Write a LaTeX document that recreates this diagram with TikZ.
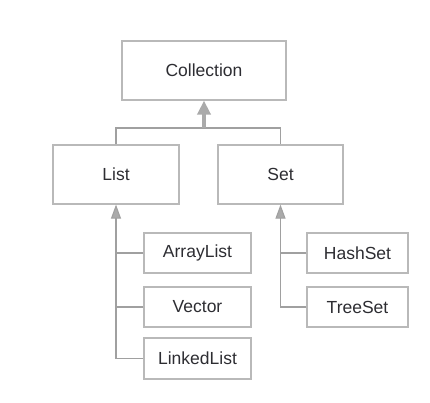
\documentclass[tikz,border=0pt]{standalone}
\usepackage{fontspec}
\setmainfont{Liberation Sans}
\usetikzlibrary{arrows.meta}
\definecolor{boxgray}{RGB}{185,185,185}
\definecolor{linegray}{RGB}{160,160,160}
\definecolor{tipgray}{RGB}{170,170,170}
\definecolor{textgray}{RGB}{45,45,50}
\begin{document}
\begin{tikzpicture}[x=1pt,y=-1pt,
    box/.style={draw=boxgray,line width=1.2pt,text=textgray,
        font=\fontsize{17.5}{19}\selectfont,inner sep=0pt},
    wire/.style={draw=linegray,line width=1.1pt},
    upto/.style={wire,-{Triangle[width=10pt,length=14pt,fill=tipgray]}},
    bigup/.style={draw=tipgray,line width=3.5pt,-{Triangle[width=13pt,length=14pt,fill=tipgray]}}]
        \useasboundingbox (0,0) rectangle (430,403);

        % interfaces
        \node[box,minimum width=164pt,minimum height=59pt] (collection) at (204,70.5) {Collection};
        \node[box,minimum width=126pt,minimum height=59pt] (list) at (116,174.5) {List};
        \node[box,minimum width=125pt,minimum height=59pt] (set) at (280.5,174.5) {Set};

        % classes
        \node[box,minimum width=107pt,minimum height=40pt] (arraylist) at (197.5,253) {ArrayList};
        \node[box,minimum width=107pt,minimum height=40pt] (vector) at (197.5,307) {Vector};
        \node[box,minimum width=107pt,minimum height=41pt] (linkedlist) at (197.5,358.5) {LinkedList};
        \node[box,minimum width=101pt,minimum height=40pt] (hashset) at (357.5,253) {HashSet};
        \node[box,minimum width=101pt,minimum height=40pt] (treeset) at (357.5,307) {TreeSet};

        \coordinate (fork) at (204,128);
        \draw[wire] (list.north) |- (fork) -| (set.north);
        \draw[bigup] (fork) -- (collection.south);

        \draw[upto] (linkedlist.west) -| (list.south);
        \draw[wire] (arraylist.west) -- (arraylist.west -| list.south);
        \draw[wire] (vector.west) -- (vector.west -| list.south);

        \draw[upto] (treeset.west) -| (set.south);
        \draw[wire] (hashset.west) -- (hashset.west -| set.south);
    \end{tikzpicture}
\end{document}
